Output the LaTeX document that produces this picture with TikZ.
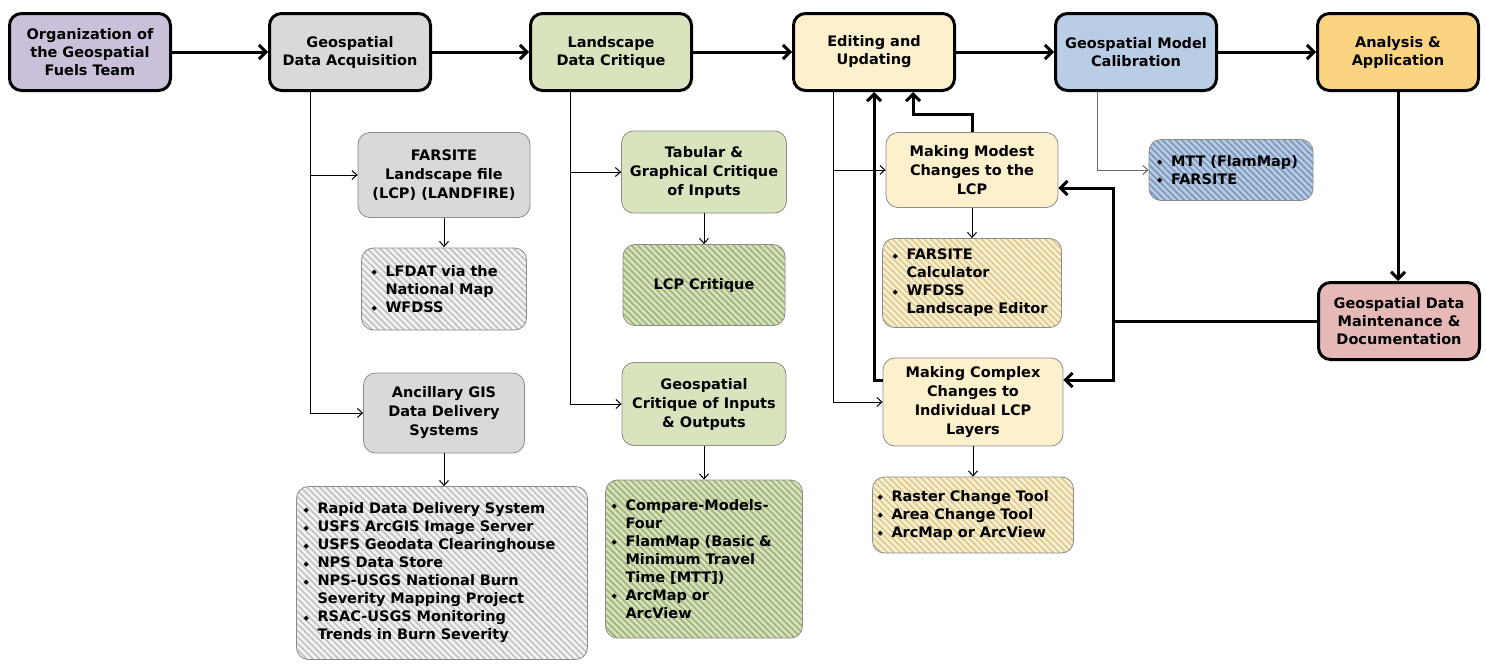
\documentclass[tikz,border=0pt]{standalone}
\usepackage{fontspec}
\setmainfont{DejaVu Sans}
\usetikzlibrary{arrows.meta,calc,patterns.meta}
\definecolor{cOrg}{HTML}{CBC0DA}
\definecolor{cGray}{HTML}{D9D9D9}
\definecolor{cGreen}{HTML}{D7E4BD}
\definecolor{cYel}{HTML}{FCF1CC}
\definecolor{cBlue}{HTML}{B9CDE5}
\definecolor{cOra}{HTML}{FAD480}
\definecolor{cRed}{HTML}{E6B9B8}
\definecolor{hGrayB}{HTML}{F4F4F4}
\definecolor{hGrayS}{HTML}{C4C4C4}
\definecolor{hGreenB}{HTML}{D7E4BD}
\definecolor{hGreenS}{HTML}{A3B47E}
\definecolor{hYelB}{HTML}{FCF1CC}
\definecolor{hYelS}{HTML}{DCCB99}
\definecolor{hBlueB}{HTML}{B9CDE5}
\definecolor{hBlueS}{HTML}{7F98BD}
\definecolor{cBorder}{HTML}{8C8C8C}
\newcommand{\lbul}{\makebox[14pt][l]{\raisebox{1.5pt}{\fontsize{7}{7}\selectfont ◆}}}
\newcommand{\lind}{\hspace*{14pt}}
\tikzset{
  mainbox/.style={draw, line width=3pt, rounded corners=12pt, minimum width=161pt, minimum height=77pt,
    align=center, inner sep=2pt, font=\fontsize{14.5}{18}\selectfont\bfseries},
  subbox/.style={draw=cBorder, line width=0.8pt, rounded corners=12pt, align=center, inner sep=2pt,
    font=\fontsize{14.5}{19}\selectfont\bfseries},
  listbox/.style={draw=cBorder, line width=0.8pt, rounded corners=12pt, align=left, inner ysep=2pt,
    font=\fontsize{14.5}{18}\selectfont\bfseries},
  hatchgray/.style={preaction={fill=hGrayB}, pattern={Lines[angle=-45,distance=4.5pt,line width=1.8pt]}, pattern color=hGrayS},
  hatchgreen/.style={preaction={fill=hGreenB}, pattern={Lines[angle=-45,distance=4.5pt,line width=1.8pt]}, pattern color=hGreenS},
  hatchyel/.style={preaction={fill=hYelB}, pattern={Lines[angle=-45,distance=4.5pt,line width=1.8pt]}, pattern color=hYelS},
  hatchblue/.style={preaction={fill=hBlueB}, pattern={Lines[angle=-45,distance=4.5pt,line width=1.8pt]}, pattern color=hBlueS},
  thinarr/.style={line width=1pt, -{Straight Barb[length=5pt,width=9pt]}},
  thickarr/.style={line width=3pt, -{Straight Barb[length=7pt,width=14pt]}}
}
\begin{document}
\begin{tikzpicture}[x=1pt,y=-1pt]
\useasboundingbox (0,0) rectangle (1486,664);
% top row
\node[mainbox, fill=cOrg] (org) at (90,52) {Organization of\\the Geospatial\\Fuels Team};
\node[mainbox, fill=cGray] (gda) at (350,52) {Geospatial\\Data Acquisition};
\node[mainbox, fill=cGreen] (ldc) at (611,52) {Landscape\\Data Critique};
\node[mainbox, fill=cYel] (edit) at (874,52) {Editing and\\Updating};
\node[mainbox, fill=cBlue] (cal) at (1136,52) {Geospatial Model\\Calibration};
\node[mainbox, fill=cOra] (ana) at (1398,52) {Analysis \&\\Application};
\node[mainbox, fill=cRed] (maint) at (1399,321) {Geospatial Data\\Maintenance \&\\Documentation};
% data acquisition column
\node[subbox, fill=cGray, minimum width=172pt, minimum height=85pt] (far) at (444,175) {FARSITE\\Landscape file\\(LCP) (LANDFIRE)};
\node[listbox, hatchgray, text width=145pt, inner xsep=10pt, minimum height=82pt] (lfd) at (444,289)
  {\lbul LFDAT via the\\\lind National Map\\\lbul WFDSS};
\node[subbox, fill=cGray, minimum width=161pt, minimum height=80pt] (anc) at (444,413) {Ancillary GIS\\Data Delivery\\Systems};
\node[listbox, hatchgray, text width=277pt, inner xsep=7pt, minimum height=173pt] (big) at (442,573)
  {\lbul Rapid Data Delivery System\\\lbul USFS ArcGIS Image Server\\\lbul USFS Geodata Clearinghouse\\\lbul NPS Data Store\\\lbul NPS-USGS National Burn\\\lind Severity Mapping Project\\\lbul RSAC-USGS Monitoring\\\lind Trends in Burn Severity};
% landscape critique column
\node[subbox, fill=cGreen, minimum width=165pt, minimum height=82pt] (tab) at (704,172) {Tabular \&\\Graphical Critique\\of Inputs};
\node[subbox, hatchgreen, minimum width=162pt, minimum height=81pt] (lcpc) at (704,285) {LCP Critique};
\node[subbox, fill=cGreen, minimum width=164pt, minimum height=83pt] (gci) at (704,404) {Geospatial\\Critique of Inputs\\\& Outputs};
\node[listbox, hatchgreen, text width=185pt, inner xsep=6pt, minimum height=158pt] (cmp) at (704,559)
  {\lbul Compare-Models-\\\lind Four\\\lbul FlamMap (Basic \&\\\lind Minimum Travel\\\lind Time [MTT])\\\lbul ArcMap or\\\lind ArcView};
% editing column
\node[subbox, fill=cYel, minimum width=172pt, minimum height=75pt] (modest) at (972,170) {Making Modest\\Changes to the\\LCP};
\node[listbox, hatchyel, text width=159pt, inner xsep=10pt, minimum height=89pt] (calc) at (972,283)
  {\lbul FARSITE\\\lind Calculator\\\lbul WFDSS\\\lind Landscape Editor};
\node[subbox, fill=cYel, minimum width=180pt, minimum height=88pt] (complex) at (973,402) {Making Complex\\Changes to\\Individual LCP\\Layers};
\node[listbox, hatchyel, text width=191pt, inner xsep=5pt, minimum height=76pt] (raster) at (973,515)
  {\lbul Raster Change Tool\\\lbul Area Change Tool\\\lbul ArcMap or ArcView};
% calibration
\node[listbox, hatchblue, text width=148pt, inner xsep=8pt, minimum height=61pt] (mtt) at (1231,170)
  {\lbul MTT (FlamMap)\\\lbul FARSITE};
% main flow
\draw[thickarr] (org) -- (gda);
\draw[thickarr] (gda) -- (ldc);
\draw[thickarr] (ldc) -- (edit);
\draw[thickarr] (edit) -- (cal);
\draw[thickarr] (cal) -- (ana);
\draw[thickarr] (ana.south) -- (ana.south |- maint.north);
% thin connectors
\draw[thinarr] ($(gda.south west)+(42,0)$) |- (far.west);
\draw[thinarr] ($(gda.south west)+(42,0)$) |- (anc.west);
\draw[thinarr] (far.south) -- (far.south |- lfd.north);
\draw[thinarr] (anc.south) -- (anc.south |- big.north);
\draw[thinarr] ($(ldc.south west)+(41,0)$) |- (tab.west);
\draw[thinarr] ($(ldc.south west)+(41,0)$) |- (gci.west);
\draw[thinarr] (tab.south) -- (tab.south |- lcpc.north);
\draw[thinarr] (gci.south) -- (gci.south |- cmp.north);
\draw[thinarr] ($(edit.south west)+(41,0)$) |- (modest.west);
\draw[thinarr] ($(edit.south west)+(41,0)$) |- (complex.west);
\draw[thinarr] (modest.south) -- (modest.south |- calc.north);
\draw[thinarr] (complex.south) -- (complex.south |- raster.north);
\draw[thinarr, black!60] ($(cal.south west)+(43,0)$) |- (mtt.west);
% feedback
\draw[thickarr] ($(complex.west)+(0,-22)$) -| ($(edit.south west)+(82,0)$);
\draw[thickarr] (modest.north) -- ++(0,-18) -| ($(edit.south west)+(121,0)$);
\draw[thickarr] (maint.west) -- ++(-204,0) |- ($(modest.east)+(0,18)$);
\draw[thickarr] (maint.west) -- ++(-204,0) |- ($(complex.east)+(0,-22)$);
\end{tikzpicture}
\end{document}
